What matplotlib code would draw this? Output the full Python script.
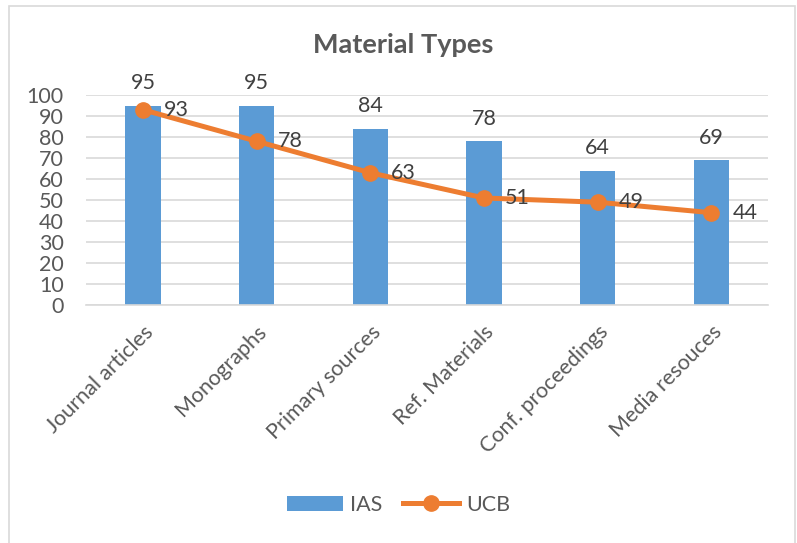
import matplotlib.pyplot as plt
from matplotlib.patches import Rectangle
import numpy as np

categories = ['Journal articles', 'Monographs', 'Primary sources',
              'Ref. Materials', 'Conf. proceedings', 'Media resouces']
ias = [95, 95, 84, 78, 64, 69]
ucb = [93, 78, 63, 51, 49, 44]

plt.rcParams['font.family'] = ['Lato', 'DejaVu Sans']

fig = plt.figure(figsize=(7.97, 5.43), dpi=100)
ax = fig.add_axes([0.108, 0.438, 0.856, 0.387])

x = np.arange(len(categories))
bars = ax.bar(x, ias, width=0.31, color='#5B9BD5', label='IAS', zorder=2)
line, = ax.plot(x, ucb, color='#ED7D31', linewidth=3.6, marker='o', markersize=11,
                label='UCB', zorder=3)

for xi, v in zip(x, ias):
    ax.annotate(str(v), (xi, v), xytext=(0, 9), textcoords='offset points',
                ha='center', va='bottom', fontsize=15.5, color='#404040')
for xi, v in zip(x, ucb):
    ax.annotate(str(v), (xi, v), xytext=(15, 0), textcoords='offset points',
                ha='left', va='center', fontsize=15.5, color='#404040')

ax.set_xlim(-0.5, len(categories) - 0.5)
ax.set_ylim(0, 100)
ax.set_yticks(range(0, 101, 10))
ax.set_xticks(x)
ax.set_xticklabels(categories, rotation=45, ha='right', rotation_mode='anchor')
ax.tick_params(axis='both', length=0, labelsize=15.5, labelcolor='#595959')
ax.tick_params(axis='x', pad=12)
ax.tick_params(axis='y', pad=16)
ax.grid(axis='y', color='#D9D9D9', linewidth=1.2, zorder=0)
for s in ['top', 'right', 'left']:
    ax.spines[s].set_visible(False)
ax.spines['bottom'].set_color('#D9D9D9')
ax.spines['bottom'].set_linewidth(1.2)

fig.text(0.506, 0.917, 'Material Types', ha='center', va='center',
         fontsize=19.5, fontweight='bold', color='#595959')

fig.legend([bars, line], ['IAS', 'UCB'], loc='center', bbox_to_anchor=(0.5, 0.07),
           ncol=2, frameon=False, fontsize=15.5, labelcolor='#595959',
           handlelength=2.6, columnspacing=1.0, handletextpad=0.3)

fig.patches.append(Rectangle((0.011, -0.01), 0.986, 0.999, transform=fig.transFigure,
                             fill=False, edgecolor='#D9D9D9', linewidth=1.2))

fig.savefig('out.png', dpi=100)
